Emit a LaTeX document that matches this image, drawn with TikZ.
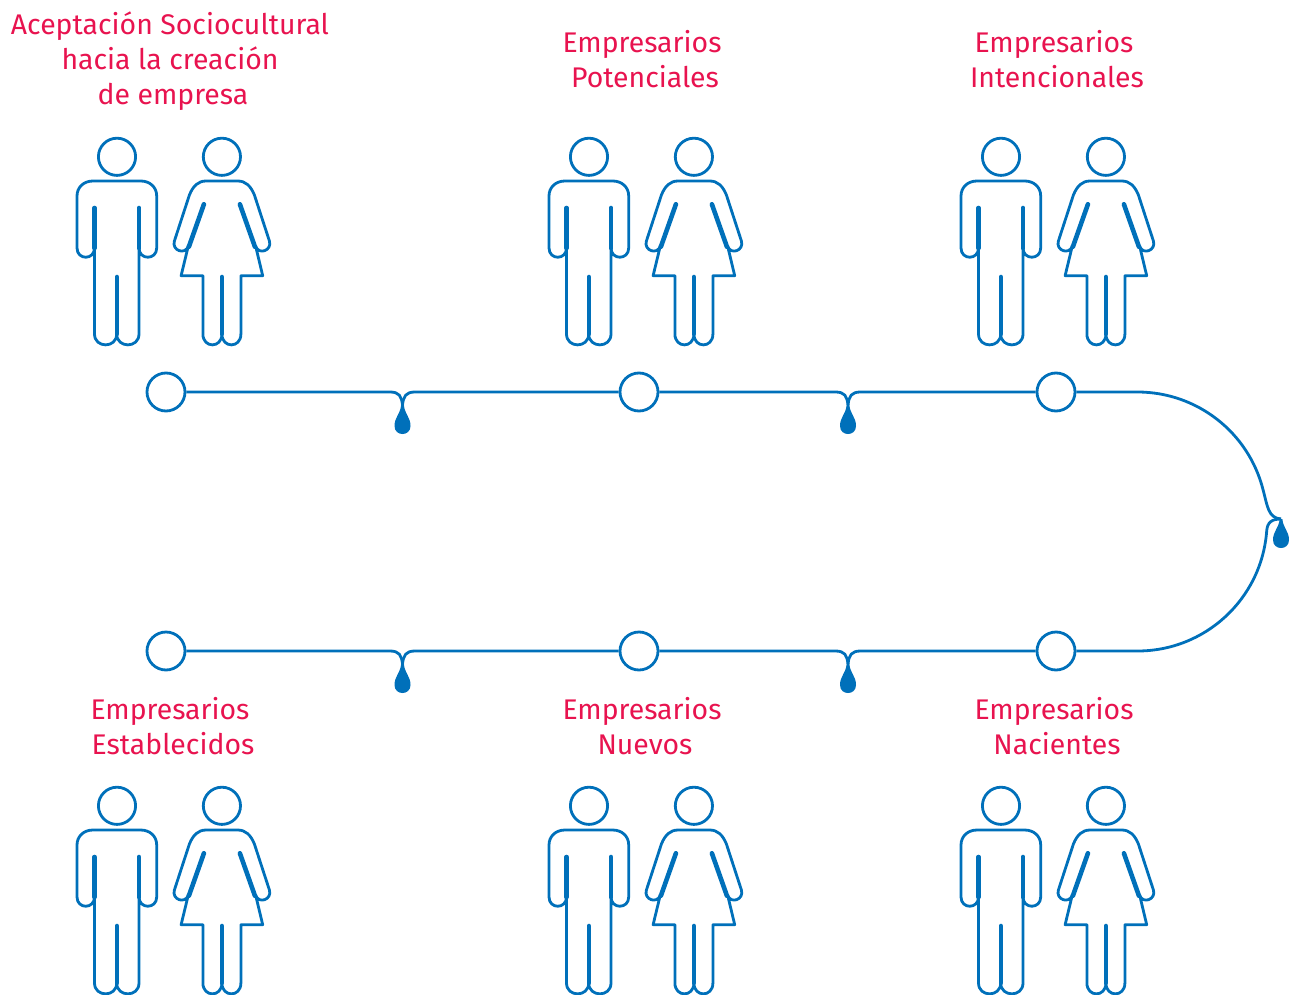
\documentclass[tikz,border=0pt]{standalone}
\usepackage{fontspec}
\setmainfont{Fira Sans}
\definecolor{figblue}{HTML}{0070BA}
\definecolor{labelred}{HTML}{E8134F}
\tikzset{
  x=1pt,y=-1pt,
  thinblue/.style={draw=figblue,line width=2.8pt,line join=round},
  thickblue/.style={draw=figblue,line width=4.6pt,line cap=round},
  station/.style={circle,draw=figblue,line width=2.8pt,minimum size=38pt,inner sep=0pt,fill=white},
  wire/.style={draw=figblue,line width=2.8pt},
  label text/.style={text=labelred,font=\fontsize{28.4}{35}\selectfont,align=center,inner sep=0pt},
  couple/.pic={
    % man
    \draw[thinblue] (57,31.8) circle[radius=18.6pt];
    \draw[thinblue] (34.5,209)--(34.5,123)
      .. controls (34.5,135.3) and (17,135.3) .. (17,123)
      --(17,71) .. controls (17,62) and (24,56) .. (33,56)
      --(80.7,56) .. controls (89.7,56) and (96.7,62) .. (96.7,71)
      --(96.7,123) .. controls (96.7,135.3) and (79,135.3) .. (79,123)
      --(79,209) .. controls (79,223.5) and (56.7,223.5) .. (56.7,209)
      .. controls (56.7,223.5) and (34.5,223.5) .. (34.5,209)--cycle;
    \draw[thickblue] (34.5,83)--(34.5,123);
    \draw[thickblue] (79,83)--(79,123);
    \draw[thickblue] (56.9,152)--(56.9,209);
    % woman
    \begin{scope}[xshift=0.6pt]
    \draw[thinblue] (161.3,31.8) circle[radius=18.6pt];
    \draw[thinblue] (120.5,150.7)--(127.7,121)
      .. controls (124.7,130.5) and (110.8,125.5) .. (113.8,116)
      --(128.8,70) .. controls (132.5,61) and (137.5,56) .. (145.5,56)
      --(177.1,56) .. controls (185.1,56) and (190.1,61) .. (193.8,70)
      --(208.8,116) .. controls (211.8,125.5) and (197.9,130.5) .. (195,121)
      --(202.1,150.7)--(180.3,150.7)--(180.3,209)
      .. controls (180.3,223.5) and (161.3,223.5) .. (161.3,209)
      .. controls (161.3,223.5) and (142.3,223.5) .. (142.3,209)
      --(142.3,150.7)--cycle;
    \draw[thickblue] (143.3,79.3)--(128.3,121.7);
    \draw[thickblue] (179.3,79.3)--(194.3,121.7);
    \draw[thickblue] (161.3,152)--(161.3,209);
    \end{scope}
  },
  droplet/.pic={
    \fill[figblue] (-1.4,0) -- (1.4,0) .. controls (2,9) and (8,12) .. (8,21)
      .. controls (8,31.7) and (-8,31.7) .. (-8,21)
      .. controls (-8,12) and (-2,9) .. (-1.4,0)--cycle;
  }
}
\begin{document}
\begin{tikzpicture}
\useasboundingbox (0,0) rectangle (1292,995);
% figures
\pic at (60,125) {couple};
\pic at (532,125) {couple};
\pic at (944,125) {couple};
\pic at (60,774) {couple};
\pic at (532,774) {couple};
\pic at (944,774) {couple};
% stations
\node[station] (c1) at (166,392) {};
\node[station] (c2) at (639,392) {};
\node[station] (c3) at (1056,392) {};
\node[station] (c4) at (166,651) {};
\node[station] (c5) at (639,651) {};
\node[station] (c6) at (1056,651) {};
% junctions
\coordinate (j1) at (402.5,405);
\coordinate (j2) at (848,405);
\coordinate (j3) at (1281,519);
\coordinate (j4) at (402.5,664);
\coordinate (j5) at (848,664);
\coordinate (a1) at (390,392);
\coordinate (b1) at (415,392);
\coordinate (a2) at (835.5,392);
\coordinate (b2) at (860.5,392);
\coordinate (a4) at (390,651);
\coordinate (b4) at (415,651);
\coordinate (a5) at (835.5,651);
\coordinate (b5) at (860.5,651);
\coordinate (t3) at (1137.5,392);
\coordinate (t6) at (1137.5,651);
\coordinate (m3) at (1263.1,490);
\coordinate (m6) at (1266.6,532);
% connectors
\draw[wire] (c1)--(a1) .. controls +(9,0) and +(-1,-9) .. (j1);
\draw[wire] (j1) .. controls +(1,-9) and +(-9,0) .. (b1)--(c2);
\draw[wire] (c2)--(a2) .. controls +(9,0) and +(-1,-9) .. (j2);
\draw[wire] (j2) .. controls +(1,-9) and +(-9,0) .. (b2)--(c3);
\draw[wire] (c3)--(t3) .. controls (1196.9,392) and (1248.7,432.4) .. (m3)
  .. controls (1267.5,506) and (1268,518) .. (j3);
\draw[wire] (j3) .. controls (1272,519) and (1267,522) .. (m6)
  .. controls (1261.1,599.3) and (1205,651) .. (t6)--(c6);
\draw[wire] (c4)--(a4) .. controls +(9,0) and +(-1,-9) .. (j4);
\draw[wire] (j4) .. controls +(1,-9) and +(-9,0) .. (b4)--(c5);
\draw[wire] (c5)--(a5) .. controls +(9,0) and +(-1,-9) .. (j5);
\draw[wire] (j5) .. controls +(1,-9) and +(-9,0) .. (b5)--(c6);
% droplets
\pic at (j1) {droplet};
\pic at (j2) {droplet};
\pic at (j3) {droplet};
\pic at (j4) {droplet};
\pic at (j5) {droplet};
% labels
\node[label text] (l1) at (170,61.5) {Aceptación Sociocultural\\hacia la creación\\\hspace{6pt}de empresa};
\node[label text] (l2) at (642,59) {Empresarios\\\hspace{6pt}Potenciales};
\node[label text] (l3) at (1054,59) {Empresarios\\\hspace{6pt}Intencionales};
\node[label text] (l4) at (170,726) {Empresarios\\\hspace{6pt}Establecidos};
\node[label text] (l5) at (642,726) {Empresarios\\\hspace{6pt}Nuevos};
\node[label text] (l6) at (1054,726) {Empresarios\\\hspace{6pt}Nacientes};
\end{tikzpicture}
\end{document}
